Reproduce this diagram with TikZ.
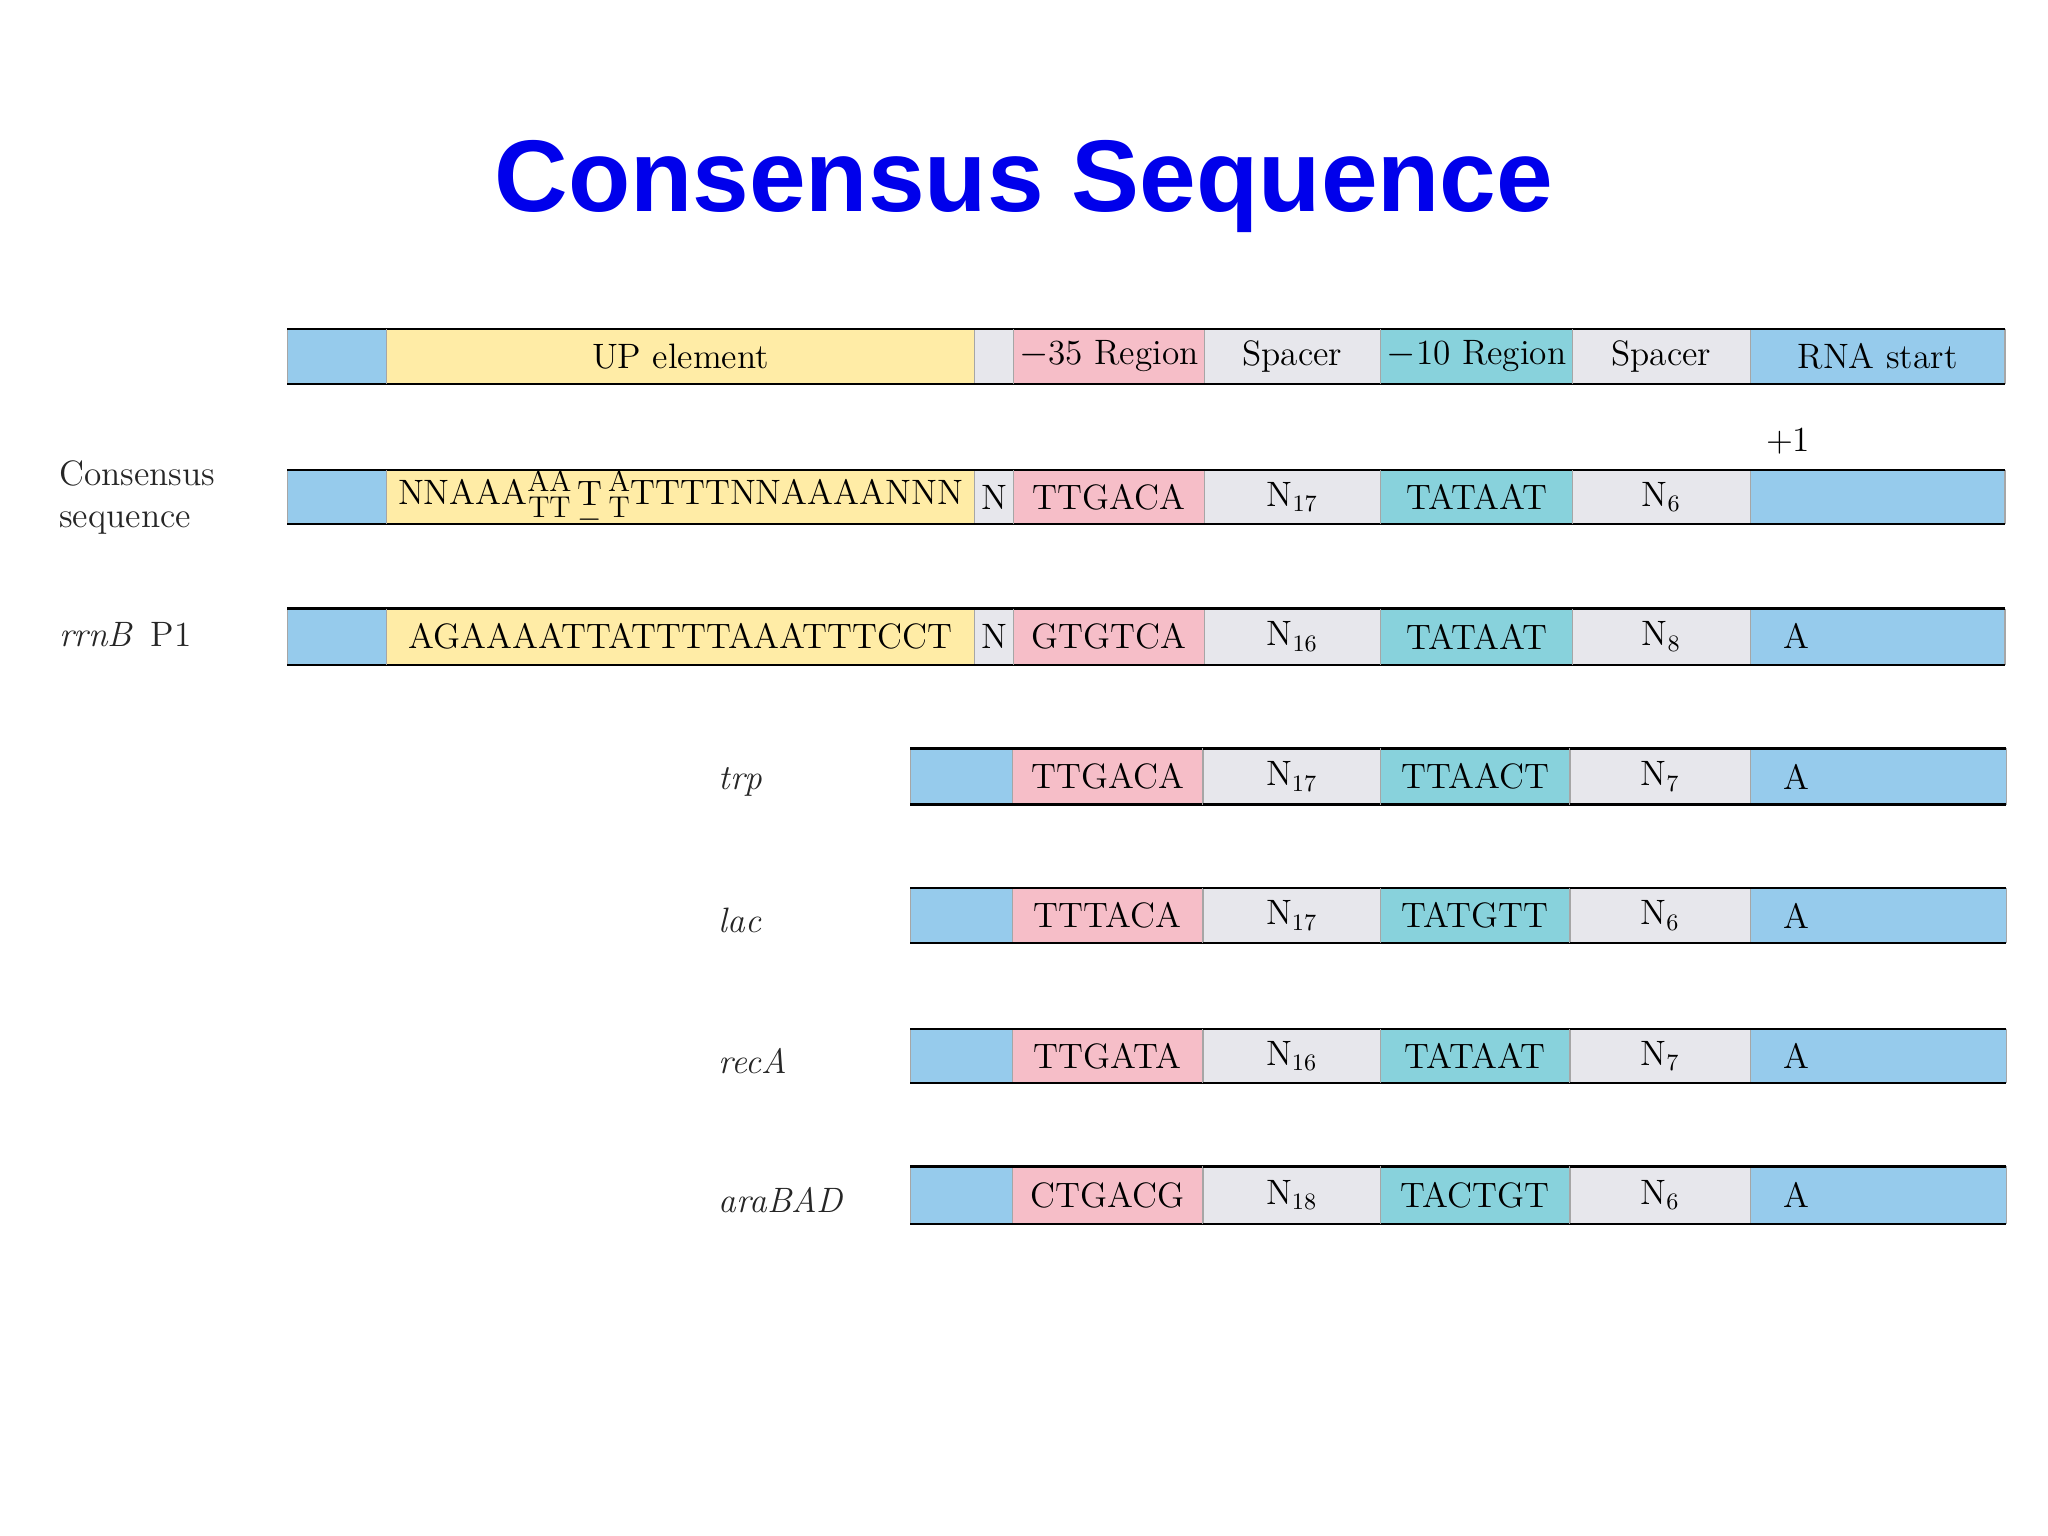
\documentclass[tikz,border=0pt]{standalone}
\usepackage{fontspec}
\newfontfamily\titlefont{Liberation Sans}
\definecolor{cblue}{RGB}{150,203,236}
\definecolor{cyel}{RGB}{255,236,166}
\definecolor{cpink}{RGB}{246,190,200}
\definecolor{ccyan}{RGB}{136,210,220}
\definecolor{cgrey}{RGB}{231,231,236}
\definecolor{ttl}{RGB}{0,0,235}
\newcommand\cell[6]{%
  \fill[#5] (#1,#3) rectangle (#2,#4);
  \draw[gray!70,line width=0.5pt] (#1,#3) -- (#1,#4) (#2,#3) -- (#2,#4);
  \draw[black,line width=0.9pt] (#1,#3) -- (#2,#3) (#1,#4) -- (#2,#4);
  \node[txt] at ({(#1+#2)/2},{(#3+#4)/2}) {#6};}
\newcommand\stkk[2]{{\fontsize{11.5}{8}\selectfont\begin{tabular}{@{}c@{}}#1\\#2\end{tabular}}}
\newcommand\stkm[3]{{\fontsize{11.5}{8}\selectfont\begin{tabular}{@{}c@{}}#1\\[-1pt]{\fontsize{13.5}{16}\selectfont #2}\\[-1pt]#3\end{tabular}}}
\begin{document}
\begin{tikzpicture}[x=0.5pt,y=-0.5pt,
  txt/.style={font=\fontsize{13.5}{16}\selectfont,inner sep=0pt,anchor=center},
  lbl/.style={font=\fontsize{13.5}{16}\selectfont,inner sep=0pt,anchor=west,gray!30!black}]
\useasboundingbox (0,0) rectangle (1568,1176);
\node[font=\titlefont\bfseries\fontsize{39}{45}\selectfont,text=ttl] (title) at (784,143) {Consensus Sequence};
% header
\cell{220}{296}{252}{294}{cblue}{}
\cell{296}{746}{252}{294}{cyel}{UP element}
\cell{746}{776}{252}{294}{cgrey}{}
\cell{776}{922}{252}{294}{cpink}{$-$35 Region}
\cell{922}{1057}{252}{294}{cgrey}{Spacer}
\cell{1057}{1204}{252}{294}{ccyan}{$-$10 Region}
\cell{1204}{1340}{252}{294}{cgrey}{Spacer}
\cell{1340}{1535}{252}{294}{cblue}{RNA start}
% consensus
\node[txt] (p1) at (1369,338) {+1};
\cell{220}{296}{360}{401}{cblue}{}
\cell{296}{746}{360}{401}{cyel}{NNAAA\stkk{AA}{TT}\,\stkm{$-$}{T}{$-$}\,\stkk{A}{T}TTTTNNAAAANNN}
\cell{746}{776}{360}{401}{cgrey}{N}
\cell{776}{922}{360}{401}{cpink}{TTGACA}
\cell{922}{1057}{360}{401}{cgrey}{N$_{17}$}
\cell{1057}{1204}{360}{401}{ccyan}{TATAAT}
\cell{1204}{1340}{360}{401}{cgrey}{N$_{6}$}
\cell{1340}{1535}{360}{401}{cblue}{}
\node[lbl,align=left] (lc) at (45,381) {Consensus\\sequence};
% rrnB
\cell{220}{296}{466}{509}{cblue}{}
\cell{296}{746}{466}{509}{cyel}{AGAAAATTATTTTAAATTTCCT}
\cell{746}{776}{466}{509}{cgrey}{N}
\cell{776}{922}{466}{509}{cpink}{GTGTCA}
\cell{922}{1057}{466}{509}{cgrey}{N$_{16}$}
\cell{1057}{1204}{466}{509}{ccyan}{TATAAT}
\cell{1204}{1340}{466}{509}{cgrey}{N$_{8}$}
\cell{1340}{1535}{466}{509}{cblue}{}
\node[txt] (ar) at (1375,487) {A};
\node[lbl] (lr) at (45,486) {\textit{rrnB}\, P1};
% lower rows
\foreach \ya/\yb/\nm/\ma/\nb/\mb/\lab in {
  573/616/TTGACA/17/TTAACT/7/trp,
  680/722/TTTACA/17/TATGTT/6/lac,
  788/829/TTGATA/16/TATAAT/7/recA,
  893/937/CTGACG/18/TACTGT/6/araBAD}{
  \cell{697}{775}{\ya}{\yb}{cblue}{}
  \cell{775}{921}{\ya}{\yb}{cpink}{\nm}
  \cell{921}{1057}{\ya}{\yb}{cgrey}{N$_{\ma}$}
  \cell{1057}{1202}{\ya}{\yb}{ccyan}{\nb}
  \cell{1202}{1340}{\ya}{\yb}{cgrey}{N$_{\mb}$}
  \cell{1340}{1536}{\ya}{\yb}{cblue}{}
  \node[txt] (a\lab) at (1375,{(\ya+\yb)/2}) {A};
  \node[lbl] (l\lab) at (550,{(\ya+\yb)/2+4}) {\textit{\lab}};
}
\end{tikzpicture}
\end{document}
